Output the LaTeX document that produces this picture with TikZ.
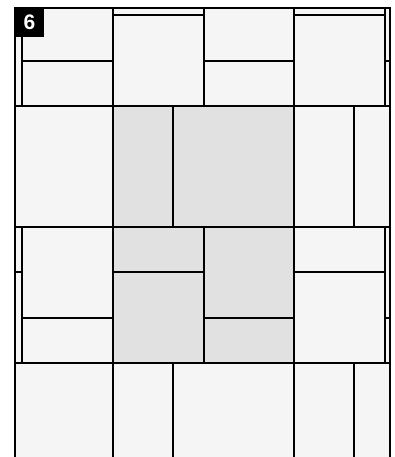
\documentclass[tikz,border=0pt]{standalone}
\usepackage{fontspec}
\newfontfamily\badgefont{Liberation Sans}
\usepackage{tikz}
\definecolor{tilelight}{HTML}{F5F5F5}
\definecolor{tilegrey}{HTML}{E1E1E1}
\tikzstyle{lighttile} = [
    fill=tilelight,
    draw=black,
    line width=1.4pt
]
\tikzstyle{greytile} = [
    fill=tilegrey,
    draw=black,
    line width=1.4pt
]
\tikzstyle{outerframe} = [
    draw=black,
    line width=2.4pt
]
\tikzstyle{badge} = [
    rectangle,
    fill=black,
    text=white,
    minimum size=29pt,
    inner sep=0pt,
    font=\badgefont\bfseries\fontsize{21}{21}\selectfont
]

\begin{document}
\begin{tikzpicture}[x=1pt, y=-1pt]

\useasboundingbox (0,0) rectangle (395,457);
\clip (0,0) rectangle (395,457);

\draw [lighttile] (15,8) rectangle (22,106);
\draw [lighttile] (22,8) rectangle (113,61);
\draw [lighttile] (22,61) rectangle (113,106);
\draw [lighttile] (113,8) rectangle (204,15);
\draw [lighttile] (113,15) rectangle (204,106);
\draw [lighttile] (204,8) rectangle (294,61);
\draw [lighttile] (204,61) rectangle (294,106);
\draw [lighttile] (294,8) rectangle (385,15);
\draw [lighttile] (294,15) rectangle (385,106);
\draw [lighttile] (385,8) rectangle (390,61);
\draw [lighttile] (385,61) rectangle (390,106);

\draw [lighttile] (15,106) rectangle (113,227);
\draw [greytile] (113,106) rectangle (173,227);
\draw [greytile] (173,106) rectangle (294,227);
\draw [lighttile] (294,106) rectangle (354,227);
\draw [lighttile] (354,106) rectangle (390,227);

\draw [lighttile] (15,227) rectangle (22,272);
\draw [lighttile] (15,272) rectangle (22,363);
\draw [lighttile] (22,227) rectangle (113,318);
\draw [lighttile] (22,318) rectangle (113,363);
\draw [greytile] (113,227) rectangle (204,272);
\draw [greytile] (113,272) rectangle (204,363);
\draw [greytile] (204,227) rectangle (294,318);
\draw [greytile] (204,318) rectangle (294,363);
\draw [lighttile] (294,227) rectangle (385,272);
\draw [lighttile] (294,272) rectangle (385,363);
\draw [lighttile] (385,227) rectangle (390,318);
\draw [lighttile] (385,318) rectangle (390,363);

\draw [lighttile] (15,363) rectangle (113,470);
\draw [lighttile] (113,363) rectangle (173,470);
\draw [lighttile] (173,363) rectangle (294,470);
\draw [lighttile] (294,363) rectangle (354,470);
\draw [lighttile] (354,363) rectangle (390,470);

\draw [outerframe] (15,470) -- (15,8) -- (390,8) -- (390,470);

\node (badge) [badge] at (29.5,22.5) {6};

\end{tikzpicture}
\end{document}
